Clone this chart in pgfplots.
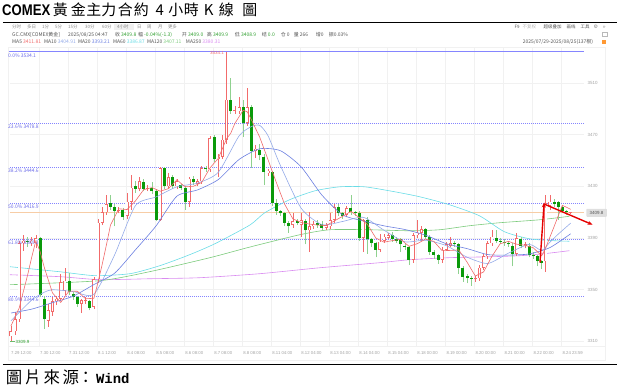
\documentclass[border=0pt]{standalone}
\usepackage{fontspec}
\usepackage{pgfplots}
\pgfplotsset{compat=1.18}
\usepackage{pgfplotstable}
\usetikzlibrary{arrows.meta}
\setmainfont{Liberation Sans}
\newfontfamily\scfont{Noto Sans CJK SC}
\newfontfamily\tcfont{Noto Sans CJK TC}
\newfontfamily\titlefont[FakeStretch=0.85]{Liberation Sans}
\newfontfamily\monofont{Liberation Mono}
\newfontfamily\symfont{DejaVu Sans}
\definecolor{upc}{HTML}{F26B6B}
\definecolor{dnc}{HTML}{0A9A0A}
\definecolor{dnw}{HTML}{8FD18F}
\definecolor{maA}{HTML}{F06A6A}
\definecolor{maB}{HTML}{93AAE8}
\definecolor{maC}{HTML}{6B7FE0}
\definecolor{maD}{HTML}{6ADCE6}
\definecolor{maE}{HTML}{7CCB7C}
\definecolor{maF}{HTML}{D98BF0}
\definecolor{fibc}{HTML}{8585FF}
\definecolor{fibt}{HTML}{6A6AE8}
\definecolor{gridc}{HTML}{F1F1F1}
\definecolor{tgray}{HTML}{8A8A8A}
\definecolor{tdark}{HTML}{555555}
\definecolor{tgreen}{HTML}{2E9E2E}
\definecolor{orl}{HTML}{F7CDA6}
\newcommand\uis{\scfont\fontsize{4.5}{5}\selectfont}
\newcommand\ui{\scfont\fontsize{5}{6}\selectfont}
\pgfplotsset{candle/.style={draw=none, fill=none, mark=none, forget plot,
  error bars/y dir=plus, error bars/y explicit, error bars/error mark=none}}

\pgfplotstableread{
x o h l c
0 3314 3322 3309.9 3318
1 3318 3333 3315 3327
2 3327 3388 3325 3386
3 3386 3392 3380 3388
4 3388 3391 3383 3387
5 3386 3391 3384 3388
6 3386 3392 3382 3390
7 3390 3391 3344 3346
8 3343 3345 3320 3327
9 3326 3339 3321 3334
10 3333 3344 3330 3341
11 3341 3345 3338 3343
12 3343 3362 3341 3356
13 3349 3367 3346 3357
14 3357 3363 3346 3348
15 3347 3348 3342 3344
16 3344 3345 3337 3339
17 3339 3343 3332 3342
18 3341 3344 3339 3342
19 3341 3342 3334 3336
20 3337 3360 3335 3358
21 3358 3405 3355 3402
22 3402 3414 3400 3410
23 3410 3423 3408 3416
24 3417 3423 3412 3414
25 3414 3416 3399 3411
26 3411 3414 3409 3412
27 3412 3413 3404 3406
28 3407 3425 3405 3418
29 3418 3439 3412 3429
30 3430 3434 3425 3428
31 3428 3437 3426 3434
32 3433 3436 3426 3428
33 3428 3431 3426 3429
34 3429 3433 3424 3426
35 3426 3428 3403 3404
36 3404 3445 3403 3444
37 3444 3445 3428 3430
38 3430 3440 3429 3437
39 3437 3439 3428 3430
40 3430 3436 3428 3434
41 3431 3432 3427 3429
42 3429 3430 3412 3418
43 3418 3437 3414 3436
44 3436 3438 3431 3433
45 3432 3436 3430 3434
46 3434 3446 3432 3444
47 3444 3446 3441 3443
48 3443 3469 3441 3467
49 3468 3470 3449 3451
50 3451 3455 3437 3453
51 3453 3470 3451 3466
52 3466 3534.1 3463 3497
53 3497 3514 3486 3488
54 3488 3492 3486 3489
55 3488 3499 3486 3491
56 3491 3497 3468 3479
57 3479 3506 3477 3491
58 3491 3493 3444 3457
59 3457 3462 3452 3459
60 3458 3463 3450 3454
61 3453 3455 3431 3441
62 3440 3443 3438 3442
63 3441 3442 3415 3417
64 3417 3420 3408 3411
65 3411 3412 3407 3409
66 3409 3410 3399 3402
67 3402 3403 3394 3399
68 3400 3409 3398 3403
69 3403 3405 3400 3402
70 3400 3409 3391 3404
71 3403 3405 3385 3396
72 3396 3410 3379 3399
73 3399 3403 3397 3401
74 3402 3404 3398 3400
75 3401 3403 3396 3398
76 3398 3402 3396 3400
77 3399 3409 3397 3404
78 3404 3416 3402 3414
79 3414 3416 3407 3409
80 3409 3410 3405 3407
81 3408 3415 3406 3413
82 3413 3423 3408 3410
83 3410 3411 3407 3409
84 3409.5 3411 3388 3390
85 3390 3405 3379 3404
86 3404 3406 3378 3389
87 3389 3390 3383 3386
88 3386 3387 3375 3381
89 3381 3393 3379 3387
90 3388 3393 3386 3391
91 3390 3394 3389 3392
92 3392 3395 3387 3389
93 3389 3391 3386 3388
94 3389 3390 3379 3385
95 3384 3386 3381 3383
96 3383 3384 3369 3373
97 3373 3394 3371 3392
98 3392 3404 3390 3394
99 3394 3399 3388 3397
100 3397 3398 3389 3391
101 3391 3392 3377 3379
102 3379 3381 3374 3377
103 3377 3378 3370 3373
104 3373 3383 3371 3381
105 3381 3387 3380 3385
106 3384 3391 3383 3386
107 3386 3388 3383 3385
108 3385 3386 3362 3367
109 3367 3368 3356 3360
110 3361 3362 3355 3359
111 3359 3361 3353 3358
112 3358 3361 3356 3359
113 3359 3369 3357 3367
114 3367 3378 3365 3376
115 3376 3388 3374 3386
116 3386 3396 3384 3391
117 3390 3396 3386 3388
118 3388 3390 3385 3387
119 3387 3389 3384 3386
120 3386 3388 3383 3385
121 3384 3386 3368 3378
122 3378 3394 3376 3390
123 3389 3391 3382 3384
124 3384 3387 3382 3385
125 3384 3386 3375 3377
126 3377 3379 3374 3376
127 3376 3377 3368 3372
128 3372 3373 3366 3371
129 3372 3423 3364 3417
130 3415 3423 3412 3418
131 3418 3420 3414 3416
132 3418 3419 3404 3414
133 3414 3415 3410 3411
134 3411 3412 3408 3410
135 3409.0 3409.9 3408.9 3409.8
}\candles

\begin{document}
\begin{tikzpicture}
\begin{scope}[x=1bp,y=-1bp]
\path (0,0) rectangle (618,390);
\draw[gridc, line width=0.5bp] (8,47) rectangle (606,361);
\draw[gridc, line width=0.5bp] (8,347) -- (606,347);
\foreach \k in {1,...,19}{
  \draw[gridc, line width=0.4bp] ({10+29.05*\k},47) -- ({10+29.05*\k},347);
}
\foreach \yy in {83,134.8,186.5,238.3,290,341.8}{
  \draw[gridc, line width=0.4bp] (10,\yy) -- (585,\yy);
}
\end{scope}

\begin{axis}[
  at={(10bp,-347bp)}, anchor=south west, scale only axis,
  width=575bp, height=299bp,
  xmin=-0.24, xmax=138.3, ymin=3306, ymax=3537,
  clip=false,
  axis line style={draw=none},
  tick style={draw=none},
  major tick length=0pt,
  xtick={-0.24,6.76,13.76,20.76,27.76,34.76,41.76,48.76,55.76,62.76,69.76,76.76,83.76,90.76,97.76,104.76,111.76,118.76,125.76,132.76},
  xticklabels={7.29 12:00,7.30 12:00,7.31 12:00,8.1 12:00,8.4 08:00,8.5 08:00,8.6 08:00,8.7 08:00,8.8 08:00,8.11 04:00,8.12 04:00,8.13 04:00,8.14 04:00,8.15 04:00,8.18 00:00,8.19 00:00,8.20 00:00,8.21 00:00,8.22 00:00,8.24 23:59},
  xticklabel style={anchor=north west, inner sep=0pt, yshift=-5bp, xshift=1bp, font=\fontsize{4.3}{5}\selectfont, text=tgray!80},
  ytick={3310,3350,3390,3430,3470,3510},
  yticklabels={3310,3350,3390,3430,3470,3510},
  yticklabel pos=right,
  yticklabel style={anchor=west, inner sep=0pt, xshift=3bp, font=\fontsize{4.5}{5}\selectfont, text=tgray!80},
]
% Fibonacci levels
\draw[fibc, line width=0.8bp] (axis cs:-0.5,3534.1) -- (axis cs:138.3,3534.1);
\foreach \v in {3478.8,3444.6,3416.9,3389.3,3344.6}{
  \edef\tmp{\noexpand\draw[fibc, line width=0.6bp, dash pattern=on 1bp off 1bp] (axis cs:-0.24,\v) -- (axis cs:138.3,\v);}\tmp
}
\draw[orl, line width=0.7bp] (axis cs:-0.24,3409.8) -- (axis cs:138.3,3409.8);

% long moving averages
\addplot[maF, line width=0.6bp, mark=none, smooth, tension=0.4] coordinates {
(-0.24,3361.6) (11.8,3360.1) (21.4,3357.8) (33.5,3358.5) (45.5,3359.3) (60,3362.4) (74.5,3367) (88.9,3370.9) (96.1,3373.2) (105.8,3374.8) (115.4,3375.5) (122.7,3376.3) (128.7,3377.9) (134.7,3380.2)};
\addplot[maE, line width=0.6bp, mark=none, smooth, tension=0.4] coordinates {
(-0.24,3353.9) (21.4,3357) (33.5,3364) (48,3374.8) (57.6,3383) (69.6,3392.5) (76.9,3396.4) (86.5,3396.4) (96.1,3395.6) (103.4,3396.4) (110.6,3399.5) (117.8,3401.8) (127.5,3404.1) (134.7,3406.8)};
\addplot[maD, line width=0.6bp, mark=none, smooth, tension=0.4] coordinates {
(-0.24,3367.8) (11.8,3363.9) (20.2,3360.9) (28.7,3362.4) (35.9,3368.6) (43.1,3377.1) (49.2,3385.6) (57.6,3400) (61.2,3409.5) (67.2,3419.6) (73.3,3426.5) (79.3,3429.6) (85.3,3429.6) (92.5,3425.8) (98.6,3421.9) (105.8,3415.7) (113,3407.2) (119,3394.9) (125.1,3389.4) (131.1,3387.9) (134.7,3387.5)};

% candles: wicks
\addplot[candle, restrict expr to domain={\thisrow{c}-\thisrow{o}}{0:1000},
  error bars/error bar style={draw=upc, line width=0.6bp, solid}]
  table[x=x, y=l, y error plus expr={\thisrow{h}-\thisrow{l}}] {\candles};
\addplot[candle, restrict expr to domain={\thisrow{o}-\thisrow{c}}{0.001:1000},
  error bars/error bar style={draw=dnw, line width=0.6bp, solid}]
  table[x=x, y=l, y error plus expr={\thisrow{h}-\thisrow{l}}] {\candles};
% up bodies
\addplot[candle, restrict expr to domain={\thisrow{c}-\thisrow{o}}{0:1000},
  error bars/error bar style={draw=upc, line width=3bp, solid}]
  table[x=x, y=o, y error plus expr={max(\thisrow{c}-\thisrow{o},0.8)}] {\candles};
\addplot[candle, restrict expr to domain={\thisrow{c}-\thisrow{o}}{1.0:1000},
  error bars/error bar style={draw=white, line width=1.8bp, solid}]
  table[x=x, y expr={\thisrow{o}+0.46}, y error plus expr={\thisrow{c}-\thisrow{o}-0.92}] {\candles};
% down bodies
\addplot[candle, restrict expr to domain={\thisrow{o}-\thisrow{c}}{0.001:1000},
  error bars/error bar style={draw=dnc, line width=3bp, solid}]
  table[x=x, y=c, y error plus expr={max(\thisrow{o}-\thisrow{c},0.8)}] {\candles};

% short moving averages
\addplot[maC, line width=0.6bp, mark=none, smooth, tension=0.4] coordinates {
(0,3332) (5,3335) (10,3340) (15,3345) (20,3354) (25,3362.8) (30,3380.8) (35,3399.4) (40,3422.3) (45,3427.2) (50,3435.2) (55,3450.7) (60,3459) (65,3457.5) (70,3445) (75,3423.2) (80,3407.9) (85,3403.2) (90,3399.4) (95,3396.6) (100,3392.2) (105,3385.6) (110,3381.8) (115,3377.2) (120,3376.8) (125,3377.7) (130,3382.6) (135,3393.3)};
\addplot[maB, line width=0.6bp, mark=none, smooth, tension=0.4] coordinates {
(0,3326) (5,3342) (8,3348) (10,3350) (15,3348.6) (20,3346.5) (25,3377) (30,3415) (35,3421.8) (40,3429.6) (45,3432.5) (50,3440.8) (55,3468.9) (58,3476.2) (60,3477.1) (62,3469.1) (65,3446) (70,3413) (75,3400.4) (80,3402.8) (85,3406) (90,3396) (95,3387.1) (100,3388.3) (105,3384.1) (110,3375.2) (115,3370.3) (120,3378.3) (125,3385.1) (128,3380.4) (130,3386.8) (132,3393) (135,3401.5)};
\addplot[maA, line width=0.6bp, mark=none] coordinates {
(0,3322) (2,3336) (3,3348.8) (4,3361.2) (5,3375.2) (6,3387.8) (7,3379.8) (8,3367.6) (10,3347.6) (12,3340.2) (14,3349) (16,3348.8) (18,3343) (20,3343.4) (21,3356) (22,3369.6) (23,3384.4) (24,3400) (26,3412.6) (28,3412) (30,3418.6) (32,3427.4) (34,3429) (36,3426.2) (38,3428.2) (40,3435) (42,3429.6) (44,3430) (46,3433) (48,3444.2) (50,3451.6) (52,3466.8) (53,3471) (54,3478.6) (56,3488.8) (57,3487.6) (58,3481.4) (60,3468) (62,3450.6) (64,3433) (66,3416.2) (68,3404.8) (70,3402) (72,3400.8) (74,3400) (76,3399.6) (78,3403.2) (80,3406.8) (82,3410.6) (84,3405.8) (86,3400.4) (88,3390) (90,3386.8) (92,3388) (94,3389) (96,3383.6) (98,3385.6) (100,3389.2) (102,3387.4) (104,3380.2) (106,3380.4) (108,3380.8) (110,3371.4) (112,3360.6) (114,3363.8) (116,3375.8) (118,3385.6) (120,3387.4) (122,3385.2) (124,3384.4) (126,3382.4) (128,3376.2) (129,3382.6) (130,3390.8) (131,3398.8) (132,3407.2) (133,3415.2) (134,3413.8) (135,3412.2)};

% annotations
\node[anchor=east, inner sep=0pt, text=upc, font=\fontsize{4.5}{5}\selectfont] at (axis cs:51.4,3533) {3534.1};
\draw[red!90!black, line width=1.4bp, -{Stealth[length=5bp,width=4bp]}] (axis cs:127.6,3371) -- (axis cs:128.6,3417.5);
\draw[red!90!black, line width=1.4bp, -{Stealth[length=5bp,width=4bp]}] (axis cs:128.8,3416) -- (axis cs:140.3,3400.3);
\end{axis}

\begin{scope}[x=1bp,y=-1bp]
% title
\draw[line width=1.4bp] (3,22.5) -- (618,22.5);
\node[anchor=west, inner sep=0pt] at (2,10) {\titlefont\bfseries\fontsize{15.5}{16}\selectfont COMEX};
\foreach \ch/\xx in {黃/60.5,金/78.5,主/94,力/109,合/125.5,約/141.5,小/176,時/191.5,線/226.5,圖/250}{
  \node[inner sep=0pt] at (\xx,10) {\tcfont\fontsize{15}{15}\selectfont \ch};
}
\node[inner sep=0pt] at (160,10) {\tcfont\fontsize{15}{15}\selectfont 4};
\node[inner sep=0pt] at (209,10) {\tcfont\fontsize{15}{15}\selectfont K};
% toolbar
\fill[gridc!70!gray!30] (114.5,23.8) rectangle (134,30.5);
\foreach \t/\xx in {分时/12,多日/27,1分/42,5分/55,15分/68,30分/85,60分/102,4小时/117,日/137,周/147,月/158,更多/168}{
  \node[anchor=west, inner sep=0pt, text=tgray] at (\xx,27.2) {\uis \t};
}
\node[anchor=west, inner sep=0pt, text=tdark] at (515,27.2) {\uis F9};
\node[anchor=west, inner sep=0pt, text=tgray!60] at (523,27.2) {\uis 不复权};
\node[anchor=west, inner sep=0pt, text=tdark] at (544,27.2) {\uis 超级叠加};
\node[anchor=west, inner sep=0pt, text=tdark] at (567,27.2) {\uis 画线};
\node[anchor=west, inner sep=0pt, text=tdark] at (581,27.2) {\uis 工具};
\node[inner sep=0pt, text=tgray] at (596.5,27.2) {\symfont\fontsize{5}{5}\selectfont ⚙};
\node[inner sep=0pt, text=tgray] at (605,27.2) {\fontsize{5}{5}\selectfont »};
\draw[tgray!60, line width=0.3bp] (603,32.5) rectangle (608,36.5);
% info row
\node[anchor=west, inner sep=0pt, text=tdark] at (12,34.6) {\ui GC.CMX[COMEX黄金]};
\node[anchor=west, inner sep=0pt, text=tdark] at (68,34.6) {\ui 2025/08/25 04:47};
\node[anchor=west, inner sep=0pt, text=tdark] at (115,34.6) {\ui 收 \textcolor{tgreen}{3409.8}};
\node[anchor=west, inner sep=0pt, text=tdark] at (138,34.6) {\ui 幅 \textcolor{tgreen}{-0.04\%(-1.3)}};
\node[anchor=west, inner sep=0pt, text=tdark] at (182,34.6) {\ui 开 \textcolor{tgreen}{3409.0}};
\node[anchor=west, inner sep=0pt, text=tdark] at (207,34.6) {\ui 高 \textcolor{tgreen}{3409.9}};
\node[anchor=west, inner sep=0pt, text=tdark] at (235,34.6) {\ui 低 \textcolor{tgreen}{3408.9}};
\node[anchor=west, inner sep=0pt, text=tdark] at (262,34.6) {\ui 结 \textcolor{tgreen}{0.0}};
\node[anchor=west, inner sep=0pt, text=tdark] at (281,34.6) {\ui 仓 0};
\node[anchor=west, inner sep=0pt, text=tdark] at (294,34.6) {\ui 量 266};
\node[anchor=west, inner sep=0pt, text=tdark] at (316,34.6) {\ui 增0};
\node[anchor=west, inner sep=0pt, text=tdark] at (329,34.6) {\ui 振0.03\%};
% MA row
\node[anchor=west, inner sep=0pt, text=tdark] at (12,42) {\ui MA5 \textcolor{maA}{3411.81}};
\node[anchor=west, inner sep=0pt, text=tdark] at (44,42) {\ui MA10 \textcolor{maB}{3404.91}};
\node[anchor=west, inner sep=0pt, text=tdark] at (78,42) {\ui MA20 \textcolor{maC}{3393.21}};
\node[anchor=west, inner sep=0pt, text=tdark] at (113,42) {\ui MA60 \textcolor{maD}{3386.87}};
\node[anchor=west, inner sep=0pt, text=tdark] at (147,42) {\ui MA120 \textcolor{maE}{3407.11}};
\node[anchor=west, inner sep=0pt, text=tdark] at (186,42) {\ui MA250 \textcolor{maF}{3380.31}};
\node[anchor=east, inner sep=0pt, text=tdark] at (594,42) {\ui 2025/07/29-2025/08/25(137根)};
\fill[orange!80] (602.5,40) rectangle (607,44);
% fib labels
\foreach \t/\yy in {0.0\% 3534.1/55.3, 23.6\% 3478.8/127, 38.2\% 3444.6/171.2, 50.0\% 3416.9/207, 61.8\% 3389.3/242.7, 80.9\% 3344.6/300.5}{
  \node[anchor=west, inner sep=0pt, text=fibt] at (8,\yy) {\ui \t};
}
% low label
\draw[tgreen!70, line width=0.4bp] (10.5,342) -- (15,342);
\node[anchor=west, inner sep=0pt, text=tgreen] at (15.5,342) {\fontsize{4.5}{5}\selectfont 3309.9};
% price box
\fill[gray!25, rounded corners=0.8bp] (587,209) rectangle (607.5,217);
\node[inner sep=0pt, text=tdark] at (597.2,213) {\fontsize{4.5}{5}\selectfont 3409.8};
% bottom
\draw[line width=1.4bp] (3,365) -- (618,365);
\foreach \ch/\xx in {圖/14,片/33,來/52,源/71,：/86}{
  \node[inner sep=0pt] at (\xx,378) {\tcfont\fontsize{16.5}{16.5}\selectfont \ch};
}
\node[anchor=west, inner sep=0pt] at (96,378.5) {\monofont\bfseries\fontsize{14}{14}\selectfont Wind};
\end{scope}
\end{tikzpicture}
\end{document}
